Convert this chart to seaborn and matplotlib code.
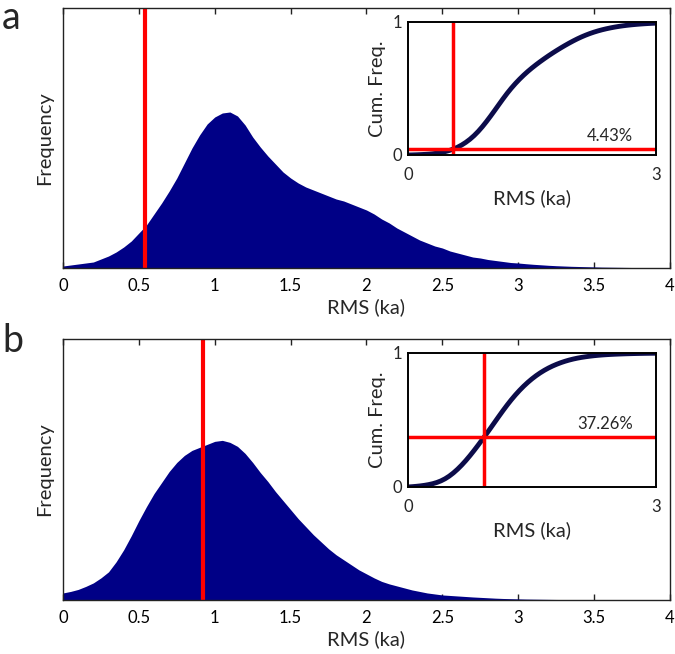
import numpy as np
import pandas as pd
import matplotlib
matplotlib.use("Agg")
import matplotlib.pyplot as plt
import seaborn as sns

# bin centres (ka) and frequencies
rms = np.linspace(0, 4, 81)
freq_a = [2, 3, 4, 5, 6, 9, 12, 16, 21, 27, 35, 43, 54, 65, 77, 90, 105, 120,
          133, 144, 151, 155, 156, 152, 143, 131, 121, 112, 104, 96, 90, 85,
          81, 78, 75, 72, 69, 67, 64, 61, 58, 54, 49, 45, 40, 36, 32, 28, 25,
          22, 20, 17, 15, 13, 11, 10, 8.5, 7.5, 6.5, 5.5, 5, 4.3, 3.7, 3.2,
          2.7, 2.3, 2, 1.7, 1.5, 1.3, 1.1, 0.9, 0.8, 0.7, 0.6, 0.5, 0.4, 0.35,
          0.3, 0.25, 0.2]
freq_b = [7, 8.5, 10.5, 13.5, 17, 22, 28, 38, 50, 64, 79, 93, 106, 117, 128,
          137, 144, 149, 152, 155, 158, 159, 157, 153, 146, 137, 127, 118, 108,
          99, 90, 81, 73, 65, 58, 51, 45, 40, 35, 30, 26, 22, 18.5, 16, 14, 12,
          10, 8.5, 7, 6, 5, 4.5, 4, 3.5, 3, 2.6, 2.2, 1.8, 1.5, 1.3, 1.1, 0.9,
          0.8, 0.7, 0.6, 0.5, 0.45, 0.4, 0.35, 0.3, 0.25, 0.2, 0.2, 0.15, 0.15,
          0.1, 0.1, 0.1, 0.05, 0.05, 0.05]
cut_a, pct_a = 0.54, 4.43
cut_b, pct_b = 0.92, 37.26
main_ticks = [0, 0.5, 1, 1.5, 2, 2.5, 3, 3.5, 4]
main_ticklabels = ["0", "0.5", "1", "1.5", "2", "2.5", "3", "3.5", "4"]

NAVY = "#000086"
CURVE = "#0c0c4a"
RED = "#ff0000"
TICK_FS = 12
LABEL_FS = 14.5

sns.set_style("white")
plt.rcParams["font.family"] = ["Lato", "DejaVu Sans"]
plt.rcParams["axes.edgecolor"] = "#222222"


def cum_freq(freq):
    f = np.asarray(freq, dtype=float)
    area = np.concatenate([[0], np.cumsum((f[1:] + f[:-1]) / 2)])
    return area / area[-1]


def panel(fig, rect, inset_rect, freq, cut, pct, letter, letter_y):
    ax = fig.add_axes(rect)
    df = pd.DataFrame({"rms": rms, "freq": freq})
    sns.histplot(data=df, x="rms", weights="freq", binwidth=0.05,
                 binrange=(-0.025, 4.025), element="poly",
                 color=NAVY, alpha=1, linewidth=0, ax=ax)
    ax.axvline(cut, color=RED, lw=3)
    ax.set_xlim(0, 4)
    ax.set_ylim(0, 260)
    ax.set_yticks([])
    ax.set_xticks(main_ticks)
    ax.set_xticklabels(main_ticklabels, fontsize=TICK_FS)
    ax.tick_params(axis="x", direction="in", top=True, bottom=True,
                   length=4, width=1, pad=7, colors="#222222",
                   labelcolor="black")
    ax.set_xlabel("RMS (ka)", fontsize=LABEL_FS, labelpad=3)
    ax.set_ylabel("Frequency", fontsize=LABEL_FS, labelpad=7)
    for s in ax.spines.values():
        s.set_linewidth(1)
    fig.text(0.003, letter_y, letter, fontsize=27, va="baseline", ha="left")

    ins = fig.add_axes(inset_rect)
    sns.lineplot(x=rms, y=cum_freq(freq), color=CURVE, lw=3.5, ax=ins)
    ins.axvline(cut, color=RED, lw=2.5)
    ins.axhline(pct / 100, color=RED, lw=2.5)
    ins.text(2.72, pct / 100 + 0.04, f"{pct:.2f}%", fontsize=TICK_FS,
             ha="right", va="bottom")
    ins.set_xlim(0, 3)
    ins.set_ylim(0, 1)
    ins.set_xticks([0, 3])
    ins.set_xticklabels(["0", "3"], fontsize=TICK_FS)
    ins.set_yticks([0, 1])
    ins.set_yticklabels(["0", "1"], fontsize=TICK_FS)
    ins.tick_params(axis="x", length=0, pad=9)
    ins.tick_params(axis="y", length=0, pad=4)
    ins.set_xlabel("RMS (ka)", fontsize=LABEL_FS, labelpad=4)
    ins.set_ylabel("Cum. Freq.", fontsize=LABEL_FS, labelpad=5)
    for s in ins.spines.values():
        s.set_linewidth(1.4)
        s.set_color("black")


fig = plt.figure(figsize=(6.75, 6.54), dpi=100)
panel(fig, [0.0933, 0.5902, 0.8993, 0.3976], [0.6044, 0.763, 0.3674, 0.2034],
      freq_a, cut_a, pct_a, "a", 0.956)
panel(fig, [0.0933, 0.0826, 0.8993, 0.3991], [0.6044, 0.2554, 0.3674, 0.2049],
      freq_b, cut_b, pct_b, "b", 0.4618)
fig.savefig("out.png", dpi=100)
